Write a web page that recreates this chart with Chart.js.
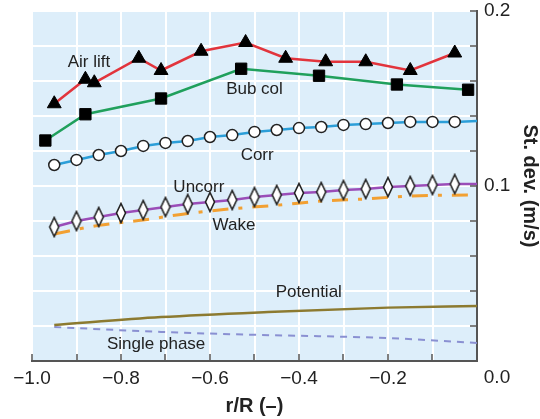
<!DOCTYPE html>
<html>
<head>
<meta charset="UTF-8">
<title>St. dev. profiles</title>
<script src="https://cdn.jsdelivr.net/npm/chart.js@4.4.0/dist/chart.umd.min.js"></script>
<style>
    body { margin: 0; background: #fff; }
    .wrap { width: 540px; height: 419px; }
</style>
</head>
<body>
<div class="wrap"><canvas id="chart" width="540" height="419"></canvas></div>
<script>
    // values (r/R, st. dev. in m/s)
    const airLiftX = [-0.95, -0.88, -0.86, -0.76, -0.71, -0.62, -0.52, -0.43, -0.34, -0.25, -0.15, -0.05];
    const airLiftY = [0.147, 0.161, 0.159, 0.173, 0.166, 0.177, 0.182, 0.173, 0.171, 0.171, 0.166, 0.176];

    const bubColX = [-0.97, -0.88, -0.71, -0.53, -0.355, -0.18, -0.02];
    const bubColY = [0.126, 0.141, 0.150, 0.167, 0.163, 0.158, 0.155];

    const profileX = [-0.95, -0.90, -0.85, -0.80, -0.75, -0.70, -0.65, -0.60, -0.55, -0.50,
                      -0.45, -0.40, -0.35, -0.30, -0.25, -0.20, -0.15, -0.10, -0.05, 0.0];
    const corrY = [0.112, 0.1149, 0.1177, 0.120, 0.1229, 0.1246, 0.1257, 0.128, 0.1291, 0.1309,
                   0.132, 0.1331, 0.1337, 0.1349, 0.1354, 0.136, 0.1366, 0.1366, 0.1366, 0.1371];
    const uncorrY = [0.0766, 0.080, 0.0823, 0.0846, 0.0863, 0.088, 0.0897, 0.0909, 0.092, 0.0937,
                     0.0949, 0.096, 0.0966, 0.0977, 0.0983, 0.0994, 0.100, 0.1006, 0.1011, 0.1011];

    const wakeX = [-0.95, -0.85, -0.75, -0.65, -0.55, -0.45, -0.35, -0.25, -0.15, 0.0];
    const wakeY = [0.0726, 0.0775, 0.0806, 0.0843, 0.087, 0.089, 0.0914, 0.0926, 0.0943, 0.0949];

    const potentialX = [-0.95, -0.71, -0.47, -0.20, 0.0];
    const potentialY = [0.0206, 0.0251, 0.028, 0.0305, 0.0314];

    const singleX = [-0.95, -0.71, -0.49, -0.20, 0.0];
    const singleY = [0.0194, 0.0166, 0.0149, 0.0131, 0.0103];

    const seriesNames = ['Air lift', 'Bub col', 'Corr', 'Uncorr', 'Wake', 'Potential', 'Single phase'];

    const FONT = '"Liberation Sans", Arial, Helvetica, sans-serif';

    function pts(xs, ys) {
        return xs.map((x, i) => ({ x: x, y: ys[i] }));
    }

    // tall thin diamond marker
    function diamondMarker() {
        const c = document.createElement('canvas');
        c.width = 12; c.height = 22;
        const g = c.getContext('2d');
        g.beginPath();
        g.moveTo(6, 1.5);
        g.lineTo(10.5, 11);
        g.lineTo(6, 20.5);
        g.lineTo(1.5, 11);
        g.closePath();
        g.fillStyle = '#fff';
        g.fill();
        g.lineWidth = 1.6;
        g.strokeStyle = '#222';
        g.stroke();
        return c;
    }
    const diamond = diamondMarker();
    const lastHidden = (r) => (ctx) => ctx.dataIndex === profileX.length - 1 ? 0 : r;

    // where the curve names sit (data units)
    const curveLabels = [
        { text: seriesNames[0], x: -0.872, y: 0.1709 },
        { text: seriesNames[1], x: -0.500, y: 0.1554 },
        { text: seriesNames[2], x: -0.494, y: 0.1177 },
        { text: seriesNames[3], x: -0.625, y: 0.0994 },
        { text: seriesNames[4], x: -0.546, y: 0.0777 },
        { text: seriesNames[5], x: -0.378, y: 0.0394 },
        { text: seriesNames[6], x: -0.721, y: 0.0095 }
    ];

    const decor = {
        id: 'decor',
        beforeDraw(chart) {
            const { ctx, chartArea: a } = chart;
            ctx.save();
            ctx.fillStyle = '#ddeefa';
            ctx.fillRect(a.left, a.top, a.right - a.left, a.bottom - a.top);
            ctx.restore();
        },
        afterDatasetsDraw(chart) {
            const { ctx, chartArea: a, scales: { x, y } } = chart;
            ctx.save();
            // inward tick marks
            ctx.strokeStyle = '#555';
            ctx.lineWidth = 1.5;
            ctx.beginPath();
            for (let v = -1; v <= 0.0001; v += 0.1) {
                const px = Math.round(x.getPixelForValue(v));
                ctx.moveTo(px, a.bottom);
                ctx.lineTo(px, a.bottom - 7);
            }
            for (let v = 0; v <= 0.2001; v += 0.02) {
                const py = Math.round(y.getPixelForValue(v));
                ctx.moveTo(a.right, py);
                ctx.lineTo(a.right - 7, py);
            }
            ctx.stroke();

            // curve names
            ctx.fillStyle = '#222';
            ctx.font = '17px ' + FONT;
            ctx.textAlign = 'center';
            ctx.textBaseline = 'middle';
            curveLabels.forEach(l => {
                ctx.fillText(l.text, x.getPixelForValue(l.x), y.getPixelForValue(l.y));
            });

            // the 0.0 label sits right of its tick in the reference
            ctx.font = '19px ' + FONT;
            ctx.fillText('0.0', x.getPixelForValue(0) + 20, a.bottom + 17);
            ctx.restore();
        }
    };

    const lineBase = { showLine: true, fill: false, tension: 0, borderWidth: 2.5 };

    new Chart(document.getElementById('chart'), {
        type: 'scatter',
        data: {
            datasets: [
                Object.assign({}, lineBase, {
                    label: seriesNames[0], data: pts(airLiftX, airLiftY),
                    borderColor: '#e2343c', pointStyle: 'triangle', pointRadius: 8,
                    pointBackgroundColor: '#000', pointBorderColor: '#000', pointBorderWidth: 1
                }),
                Object.assign({}, lineBase, {
                    label: seriesNames[1], data: pts(bubColX, bubColY),
                    borderColor: '#20a05c', pointStyle: 'rect', pointRadius: 8,
                    pointBackgroundColor: '#000', pointBorderColor: '#000', pointBorderWidth: 1
                }),
                Object.assign({}, lineBase, {
                    label: seriesNames[2], data: pts(profileX, corrY),
                    borderColor: '#2b9ed8', pointStyle: 'circle', pointRadius: lastHidden(5.5),
                    pointBackgroundColor: '#fff', pointBorderColor: '#222', pointBorderWidth: 1.5
                }),
                Object.assign({}, lineBase, {
                    label: seriesNames[3], data: pts(profileX, uncorrY),
                    borderColor: '#9a4db8', pointStyle: diamond, pointRadius: lastHidden(6)
                }),
                Object.assign({}, lineBase, {
                    label: seriesNames[4], data: pts(wakeX, wakeY),
                    borderColor: '#f2a032', borderWidth: 3, borderDash: [16, 10, 4, 10],
                    cubicInterpolationMode: 'monotone', pointRadius: 0
                }),
                Object.assign({}, lineBase, {
                    label: seriesNames[5], data: pts(potentialX, potentialY),
                    borderColor: '#8c7a30', cubicInterpolationMode: 'monotone', pointRadius: 0
                }),
                Object.assign({}, lineBase, {
                    label: seriesNames[6], data: pts(singleX, singleY),
                    borderColor: '#8a90d2', borderWidth: 2, borderDash: [7, 6],
                    cubicInterpolationMode: 'monotone', pointRadius: 0
                })
            ]
        },
        options: {
            responsive: false,
            animation: false,
            layout: { padding: { left: 32, top: 11, right: 0, bottom: 0 } },
            plugins: {
                legend: { display: false },
                tooltip: { enabled: false }
            },
            scales: {
                x: {
                    type: 'linear',
                    min: -1, max: 0,
                    afterFit: (s) => { s.height = 58; s.paddingLeft = 0; s.paddingRight = 0; },
                    ticks: {
                        stepSize: 0.1,
                        autoSkip: false,
                        maxRotation: 0,
                        padding: 6,
                        color: '#222',
                        font: { family: FONT, size: 19 },
                        callback: (v) => {
                            const k = Math.round(v * 10);
                            if (k % 2 !== 0 || k === 0) return '';
                            return '\u2212' + Math.abs(v).toFixed(1);
                        }
                    },
                    grid: { color: '#fff', lineWidth: 2, drawTicks: false },
                    border: { display: true, color: '#555', width: 2 },
                    title: {
                        display: true, text: 'r/R (\u2013)', color: '#222',
                        font: { family: FONT, size: 20, weight: 'bold' },
                        padding: { top: 0, bottom: 1 }
                    }
                },
                y: {
                    type: 'linear',
                    position: 'right',
                    min: 0, max: 0.2,
                    afterFit: (s) => { s.width = 63; s.paddingTop = 0; s.paddingBottom = 0; },
                    ticks: {
                        stepSize: 0.02,
                        autoSkip: false,
                        padding: 7,
                        color: '#222',
                        font: { family: FONT, size: 19 },
                        callback: (v) => {
                            const k = Math.round(v * 100);
                            return (k === 10 || k === 20) ? (k / 100).toFixed(1) : '';
                        }
                    },
                    grid: { color: '#fff', lineWidth: 2, drawTicks: false },
                    border: { display: true, color: '#555', width: 2 },
                    title: {
                        display: true, text: 'St. dev. (m/s)', color: '#222',
                        font: { family: FONT, size: 20, weight: 'bold', lineHeight: 1 },
                        padding: { top: 0, bottom: 0 }
                    }
                }
            }
        },
        plugins: [decor]
    });
</script>
</body>
</html>
